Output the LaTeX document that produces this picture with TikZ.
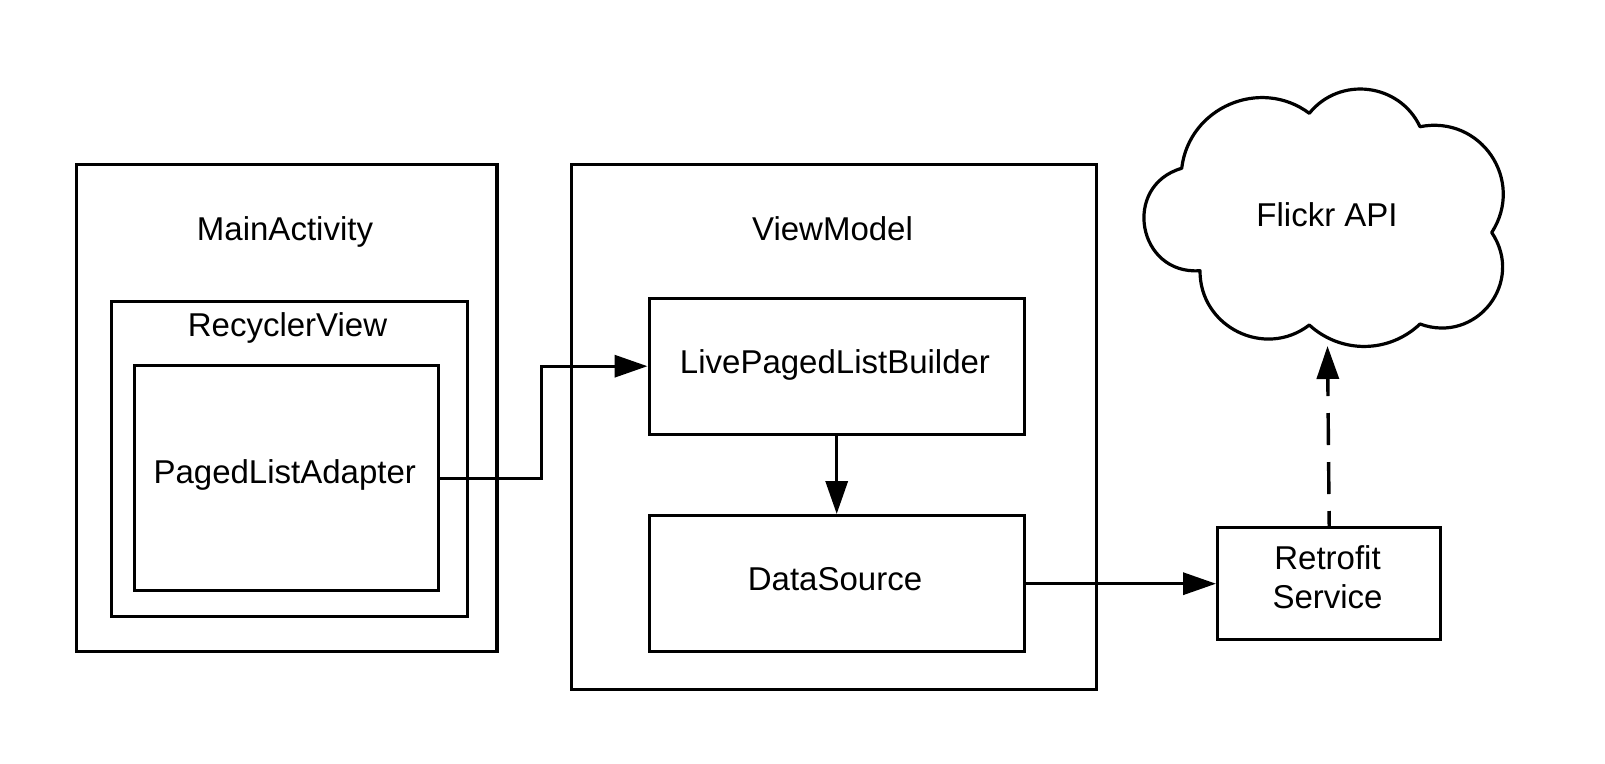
\documentclass[tikz,border=0pt]{standalone}
\usepackage{fontspec}
\setmainfont{Liberation Sans}
\usetikzlibrary{arrows.meta}
\begin{document}
\begin{tikzpicture}[x=1pt,y=-1pt,
  box/.style={draw, line width=3.4pt, inner sep=0pt, anchor=north west},
  lbl/.style={font=\fontsize{33}{40}\selectfont, anchor=base, inner sep=0pt},
  conn/.style={line width=3.4pt, -{Triangle[length=33pt,width=22pt]}},
  dconn/.style={conn, dash pattern=on 32pt off 17pt, dash phase=17pt},
  cloudline/.style={draw, line width=3.2pt, line join=round}]
\useasboundingbox (0,0) rectangle (1605,763);
% boxes
\node[box, minimum width=420.5pt, minimum height=487pt] (ma) at (74.7,163) {};
\node[box, minimum width=356pt, minimum height=314.5pt] (rv) at (109.5,300) {};
\node[box, minimum width=304.5pt, minimum height=225pt] (pla) at (132.5,364) {};
\node[box, minimum width=525pt, minimum height=525pt] (vm) at (570,163) {};
\node[box, minimum width=375pt, minimum height=136pt] (lplb) at (647.5,296.5) {};
\node[box, minimum width=375pt, minimum height=136pt] (ds) at (647.5,514) {};
\node[box, minimum width=223pt, minimum height=112pt] (rs) at (1216,526) {};
% labels
\node[lbl] (maL) at (285,240) {MainActivity};
\node[lbl] (rvL) at (287.5,336) {RecyclerView};
\node[lbl] (plaL) at (284.75,483) {PagedListAdapter};
\node[lbl] (vmL) at (832.5,240) {ViewModel};
\node[lbl] (lplbL) at (835,373) {LivePagedListBuilder};
\node[lbl] (dsL) at (835,590) {DataSource};
\node[lbl] (rsL1) at (1327.5,569) {Retrofit};
\node[lbl] (rsL2) at (1327.5,608) {Service};
\node[lbl] (flL) at (1327,226) {Flickr API};
% cloud
\draw[cloudline] (1181.7,168.3)
  to[bend left=60, looseness=1.13] (1309.3,113.3)
  to[bend left=58, looseness=1.11] (1420,126.7)
  to[bend left=67, looseness=1.24] (1491.7,232.5)
  to[bend left=72, looseness=1.32] (1420,324)
  to[bend left=43, looseness=0.99] (1309.3,325)
  to[bend left=64, looseness=1.18] (1200,270.7)
  to[bend left=84, looseness=1.54] (1181.7,168.3) -- cycle;
\coordinate (fa) at (1327.5,346);
% connectors
\coordinate (bend) at (541.7,0);
\draw[conn] (pla.east) -- (pla.east -| bend) |- (lplb.west);
\draw[conn] (lplb.south) -- (ds.north);
\draw[conn] (ds.east) -- (rs.west);
\draw[dconn] (rs.north) -- (fa);
\end{tikzpicture}
\end{document}
